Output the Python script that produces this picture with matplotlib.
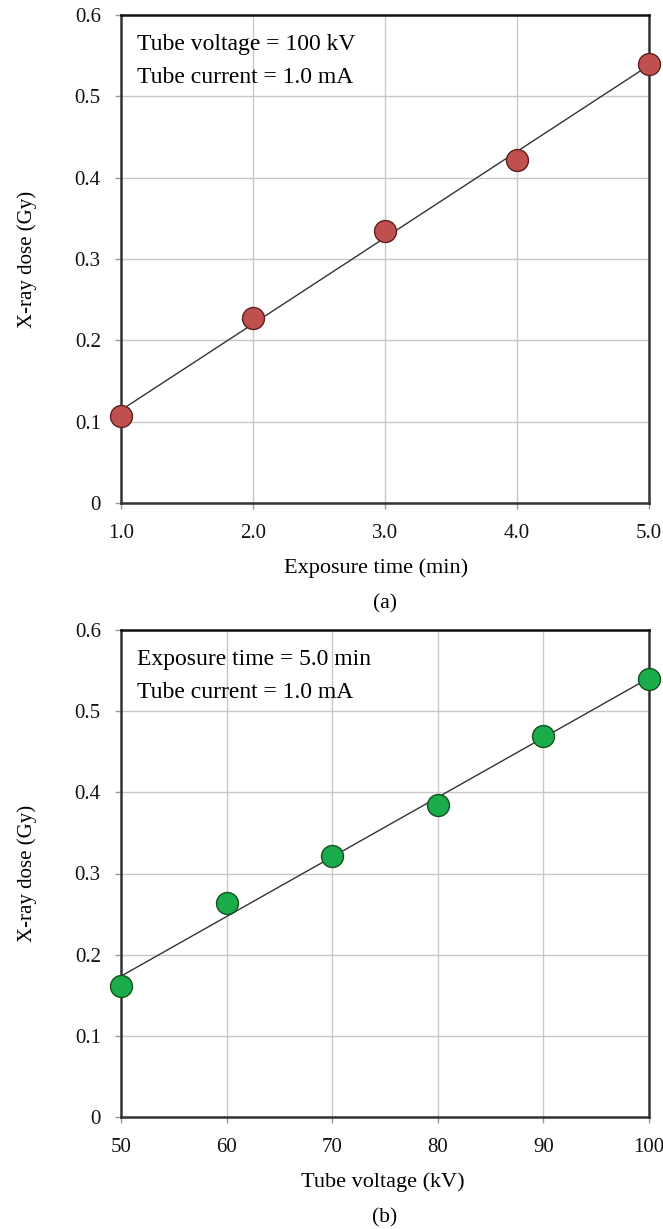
import numpy as np
import matplotlib
matplotlib.use("Agg")
import matplotlib.pyplot as plt

plt.rcParams['font.family'] = ['Liberation Serif', 'DejaVu Serif']

# (a) dose vs exposure time
time_min = [1.0, 2.0, 3.0, 4.0, 5.0]
dose_a = [0.107, 0.228, 0.334, 0.422, 0.540]
xticks_a = [1.0, 2.0, 3.0, 4.0, 5.0]
xticklabels_a = ["1.0", "2.0", "3.0", "4.0", "5.0"]

# (b) dose vs tube voltage
voltage_kv = [50, 60, 70, 80, 90, 100]
dose_b = [0.162, 0.264, 0.322, 0.385, 0.470, 0.540]
xticks_b = [50, 60, 70, 80, 90, 100]
xticklabels_b = ["50", "60", "70", "80", "90", "100"]

yticks = [0, 0.1, 0.2, 0.3, 0.4, 0.5, 0.6]
yticklabels = ["0", "0.1", "0.2", "0.3", "0.4", "0.5", "0.6"]

W, H = 663, 1229
fig = plt.figure(figsize=(W / 100, H / 100), dpi=100)


def px_axes(left, top, right, bottom):
    return fig.add_axes([left / W, 1 - bottom / H, (right - left) / W, (bottom - top) / H])


def panel(ax, x, y, xticks, xlabels, color, edge, notes, xlabel, tag, ybot, xc):
    ax.set_xlim(xticks[0], xticks[-1])
    ax.set_ylim(0, 0.6)
    ax.set_xticks(xticks)
    ax.set_xticklabels(xlabels)
    ax.set_yticks(yticks)
    ax.set_yticklabels(yticklabels)
    ax.grid(True, color="#c8c8c8", linewidth=1.0)
    ax.set_axisbelow(True)
    for s in ax.spines.values():
        s.set_color("#333333")
        s.set_linewidth(1.8)
    ax.spines['top'].set_color("#111111")
    ax.tick_params(axis='both', direction='out', length=4.5, width=1, color="#999999",
                   labelsize=15, labelcolor="#111111")
    ax.tick_params(axis='x', pad=10.5)
    ax.tick_params(axis='y', pad=10)

    # linear trend line
    k, b = np.polyfit(x, y, 1)
    xs = np.array([xticks[0], xticks[-1]])
    ax.plot(xs, k * xs + b, color="#333333", linewidth=1.0, zorder=3)
    ax.plot(x, y, 'o', markersize=15.8, markerfacecolor=color, markeredgecolor=edge,
            markeredgewidth=1.0, zorder=4, clip_on=False)

    ax.text(0.03, 0.928, notes[0], transform=ax.transAxes, fontsize=17, va='baseline', ha='left')
    ax.text(0.03, 0.860, notes[1], transform=ax.transAxes, fontsize=17, va='baseline', ha='left')

    fig.text(xc / W, 1 - (ybot + 65) / H, xlabel, fontsize=16, ha='center', va='center')
    fig.text(385 / W, 1 - (ybot + 101) / H, tag, fontsize=15.5, ha='center', va='center')
    fig.text(27 / W, 1 - (ybot - 244) / H, "X-ray dose (Gy)", fontsize=15, rotation=90,
             ha='center', va='center')


ax1 = px_axes(121, 15, 649, 503)
panel(ax1, time_min, dose_a, xticks_a, xticklabels_a, "#c0504d", "#5a2020",
      ["Tube voltage = 100 kV", "Tube current = 1.0 mA"], "Exposure time (min)", "(a)", 503, 376)

ax2 = px_axes(121, 630, 649, 1117)
panel(ax2, voltage_kv, dose_b, xticks_b, xticklabels_b, "#1aab4b", "#14501e",
      ["Exposure time = 5.0 min", "Tube current = 1.0 mA"], "Tube voltage (kV)", "(b)", 1117, 383)

fig.savefig("out.png", dpi=100)
